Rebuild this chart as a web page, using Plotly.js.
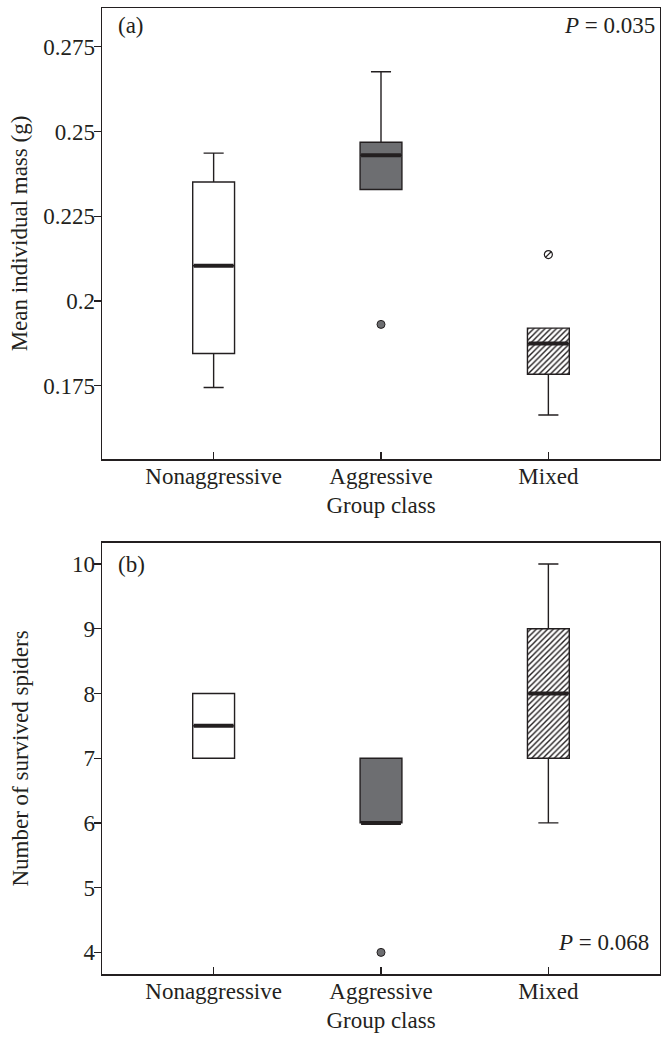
<!DOCTYPE html>
<html>
<head>
<meta charset="utf-8">
<script src="https://cdn.plot.ly/plotly-3.0.1.min.js"></script>
<style>
html,body{margin:0;padding:0;background:#fff;}
#chart{width:661px;height:1038px;}
</style>
</head>
<body>
<div id="chart"></div>
<script>
// ---------- data ----------
const categories = ['Nonaggressive', 'Aggressive', 'Mixed'];

// (a) Mean individual mass (g)
const massLower  = [0.1745, 0.2329, 0.1664];
const massQ1     = [0.1845, 0.2329, 0.1784];
const massMedian = [0.2104, 0.2430, 0.1875];
const massQ3     = [0.2351, 0.2468, 0.1920];
const massUpper  = [0.2436, 0.2676, 0.1920];
const massOutX   = ['Aggressive', 'Mixed'];
const massOutY   = [0.1931, 0.2137];
const massTicks  = [0.175, 0.2, 0.225, 0.25, 0.275];
const massTickText = ['0.175', '0.2', '0.225', '0.25', '0.275'];

// (b) Number of survived spiders
const survLower  = [7, 6, 6];
const survQ1     = [7, 6, 7];
const survMedian = [7.5, 6, 8];
const survQ3     = [8, 7, 9];
const survUpper  = [8, 7, 10];
const survOutX   = ['Aggressive'];
const survOutY   = [4];
const survTicks  = [4, 5, 6, 7, 8, 9, 10];

// ---------- styles ----------
const INK = '#231f20';
const GREY = '#6d6e71';
const FONT = 'Liberation Serif, Times New Roman, serif';
const FS = 23;
const BOXW = 0.25;
const fills = ['#ffffff', GREY, 'rgba(0,0,0,0)'];

function idx(c){ return categories.indexOf(c); }

function panel(lower, q1, med, q3, upper, outX, outY, xa, ya){
  const tr = [];
  // hatched background for Mixed
  const m = 2;
  tr.push({
    type:'bar', x:[m], base:[q1[m]], y:[q3[m]-q1[m]], width:[BOXW],
    xaxis:xa, yaxis:ya, showlegend:false, hoverinfo:'skip',
    marker:{color:'#ffffff', line:{width:0},
      pattern:{shape:'/', fgcolor:INK, bgcolor:'#ffffff', size:4, solidity:0.35}}
  });
  for(let i=0;i<categories.length;i++){
    tr.push({
      type:'box', x:[i], q1:[q1[i]], median:[med[i]], q3:[q3[i]],
      lowerfence:[lower[i]], upperfence:[upper[i]],
      width:BOXW, whiskerwidth:0.48, boxpoints:false,
      fillcolor:fills[i], line:{color:INK, width:1.4},
      xaxis:xa, yaxis:ya, showlegend:false, hoverinfo:'skip'
    });
  }
  // thick median lines
  const mx=[], my=[];
  for(let i=0;i<categories.length;i++){
    mx.push(i-BOXW/2+0.006, i+BOXW/2-0.006, null);
    my.push(med[i], med[i], null);
  }
  tr.push({type:'scatter', mode:'lines', x:mx, y:my, line:{color:INK, width:4},
    xaxis:xa, yaxis:ya, showlegend:false, hoverinfo:'skip'});
  // outliers
  const gx=[], gy=[], hx=[], hy=[];
  outX.forEach((c,k)=>{
    if(c==='Mixed'){ hx.push(idx(c)); hy.push(outY[k]); }
    else { gx.push(idx(c)); gy.push(outY[k]); }
  });
  tr.push({type:'scatter', mode:'markers', x:gx, y:gy,
    marker:{symbol:'circle', size:8, color:GREY, line:{color:INK, width:1}},
    xaxis:xa, yaxis:ya, showlegend:false, hoverinfo:'skip'});
  if(hx.length){
    tr.push({type:'scatter', mode:'markers', x:hx, y:hy,
      marker:{symbol:'circle', size:8, color:'#ffffff', line:{color:INK, width:1.2}},
      xaxis:xa, yaxis:ya, showlegend:false, hoverinfo:'skip'});
    tr.push({type:'scatter', mode:'markers', x:hx, y:hy,
      marker:{symbol:'line-ne', size:6, color:INK, line:{color:INK, width:1.2}},
      xaxis:xa, yaxis:ya, showlegend:false, hoverinfo:'skip'});
  }
  return tr;
}

const data = [
  ...panel(massLower, massQ1, massMedian, massQ3, massUpper, massOutX, massOutY, 'x', 'y'),
  ...panel(survLower, survQ1, survMedian, survQ3, survUpper, survOutX, survOutY, 'x2', 'y2')
];

const xCommon = {
  range:[-0.667, 2.667], tickmode:'array', tickvals:[0,1,2], ticktext:categories,
  ticks:'inside', ticklen:7, tickwidth:1.3, tickcolor:INK, ticklabelstandoff:-4,
  showline:true, mirror:true, linecolor:INK, linewidth:1.5,
  showgrid:false, zeroline:false, fixedrange:true,
  tickfont:{family:FONT, size:FS, color:INK}
};
const yCommon = {
  ticks:'outside', ticklen:7, tickwidth:1.3, tickcolor:INK, ticklabelstandoff:-6,
  showline:true, mirror:true, linecolor:INK, linewidth:1.5,
  showgrid:false, zeroline:false, fixedrange:true,
  tickfont:{family:FONT, size:FS, color:INK}
};

const layout = {
  width:661, height:1038,
  margin:{l:102, r:1, t:8, b:64},
  paper_bgcolor:'#ffffff', plot_bgcolor:'#ffffff',
  font:{family:FONT, size:FS, color:INK},
  barmode:'overlay', boxmode:'overlay',
  showlegend:false,
  xaxis: Object.assign({}, xCommon, {anchor:'y', domain:[0,1],
    title:{text:'Group class', font:{family:FONT, size:FS, color:INK}, standoff:9}}),
  yaxis: Object.assign({}, yCommon, {anchor:'x', domain:[0.5331, 1],
    range:[0.1534, 0.2864], tickmode:'array', tickvals:massTicks, ticktext:massTickText,
    title:{text:'Mean individual mass (g)', font:{family:FONT, size:FS, color:INK}, standoff:9}}),
  xaxis2: Object.assign({}, xCommon, {anchor:'y2', domain:[0,1],
    title:{text:'Group class', font:{family:FONT, size:FS, color:INK}, standoff:9}}),
  yaxis2: Object.assign({}, yCommon, {anchor:'x2', domain:[0, 0.4462],
    range:[3.666, 10.325], tickmode:'array', tickvals:survTicks,
    title:{text:'Number of survived spiders', font:{family:FONT, size:FS, color:INK}, standoff:37}}),
  annotations:[
    {xref:'x domain', yref:'y domain', x:0.025, y:0.962, xanchor:'left', yanchor:'middle',
     text:'(a)', showarrow:false, font:{family:FONT, size:FS, color:INK}},
    {xref:'x domain', yref:'y domain', x:0.995, y:0.962, xanchor:'right', yanchor:'middle',
     text:'<i>P</i> = 0.035', showarrow:false, font:{family:FONT, size:FS, color:INK}},
    {xref:'x2 domain', yref:'y2 domain', x:0.025, y:0.951, xanchor:'left', yanchor:'middle',
     text:'(b)', showarrow:false, font:{family:FONT, size:FS, color:INK}},
    {xref:'x2 domain', yref:'y2 domain', x:0.983, y:0.072, xanchor:'right', yanchor:'middle',
     text:'<i>P</i> = 0.068', showarrow:false, font:{family:FONT, size:FS, color:INK}}
  ]
};

Plotly.newPlot('chart', data, layout, {displayModeBar:false, staticPlot:true});
</script>
</body>
</html>
